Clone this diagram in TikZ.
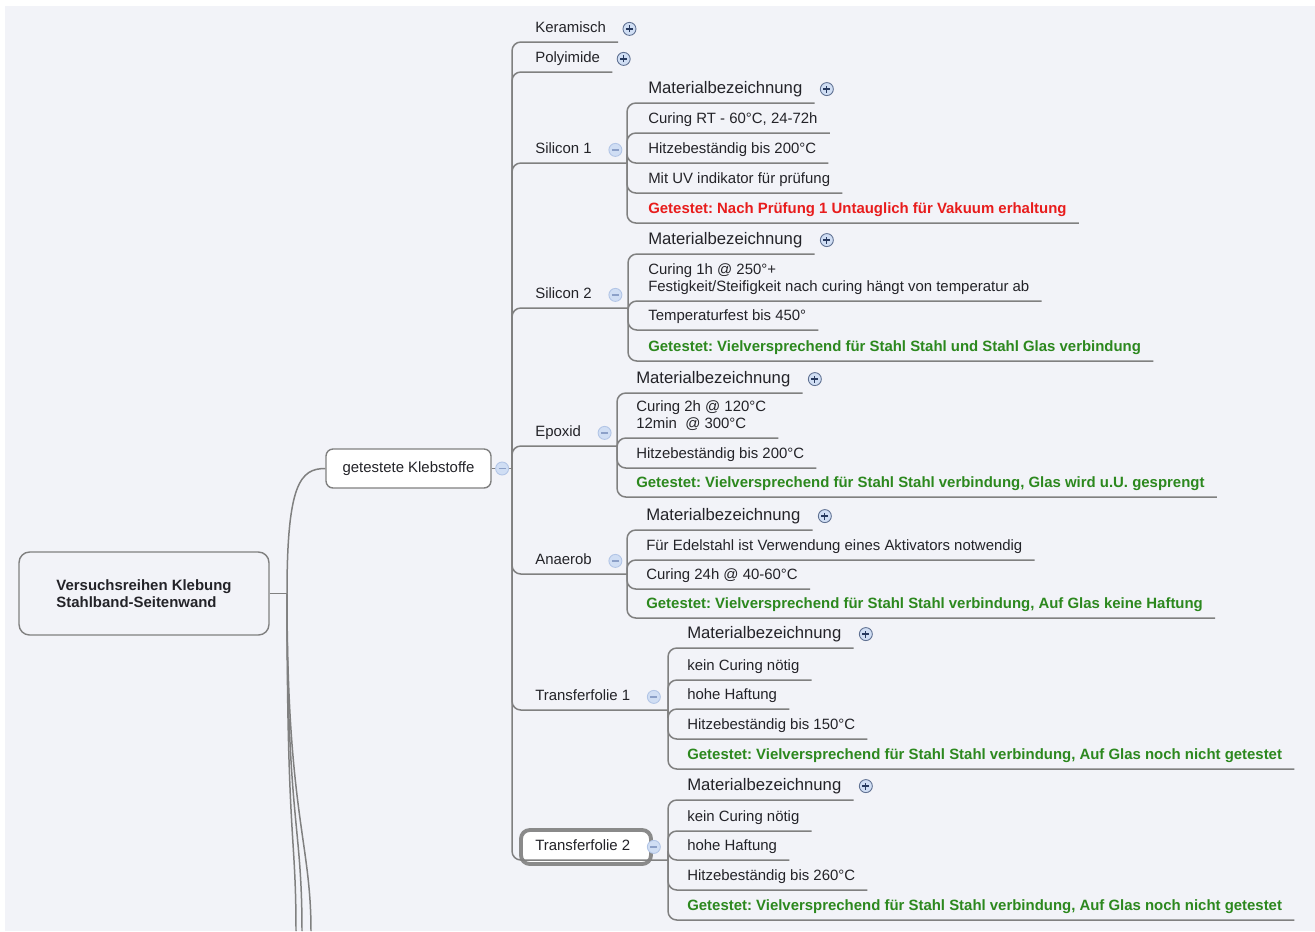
\documentclass[tikz,border=0pt]{standalone}
\usepackage{fontspec}
\setmainfont{Liberation Sans}
\frenchspacing
\usetikzlibrary{positioning,calc}
\definecolor{PageBg}{RGB}{242,243,248}
\definecolor{LineGray}{RGB}{128,128,128}
\definecolor{FrameGray}{RGB}{138,138,138}
\definecolor{InkDark}{RGB}{35,35,40}
\definecolor{ResRed}{RGB}{232,28,28}
\definecolor{ResGreen}{RGB}{44,136,30}
\definecolor{BtnFill}{RGB}{208,222,244}
\definecolor{PlusRing}{RGB}{95,112,145}
\definecolor{PlusMark}{RGB}{40,58,95}
\definecolor{MinusRing}{RGB}{178,197,230}
\definecolor{MinusMark}{RGB}{140,160,200}
\tikzset{
  link/.style={draw=LineGray,line width=0.85pt,rounded corners=5pt},
  topic/.style={anchor=south west,inner xsep=6.8pt,inner ysep=3.3pt,align=left,
    text=InkDark,font=\fontsize{8.5}{9.7}\selectfont,execute at end node={\vphantom{g}}},
  matbez/.style={topic,font=\fontsize{9.5}{11}\selectfont},
  good/.style={topic,text=ResGreen,font=\fontsize{8.5}{9.7}\selectfont\bfseries},
  bad/.style={topic,text=ResRed,font=\fontsize{8.5}{9.7}\selectfont\bfseries},
  rootbox/.style={draw=LineGray,line width=0.8pt,rounded corners=6pt,fill=PageBg,
    minimum width=5cm,minimum height=1.66cm,align=left,text=InkDark,
    font=\fontsize{8.5}{9.7}\selectfont\bfseries},
  mainbox/.style={draw=LineGray,line width=0.8pt,rounded corners=4pt,fill=white,
    minimum width=3.3cm,minimum height=0.78cm,text=InkDark,
    font=\fontsize{8.5}{9.7}\selectfont},
  selframe/.style={draw=FrameGray,line width=2.2pt,rounded corners=5pt,fill=white},
  plusbtn/.style={circle,minimum size=7.4pt,inner sep=0pt,draw=PlusRing,fill=BtnFill,
    line width=0.5pt,
    path picture={\draw[PlusMark,line width=0.7pt]
      ([xshift=-2pt]path picture bounding box.center) -- ([xshift=2pt]path picture bounding box.center)
      ([yshift=-2pt]path picture bounding box.center) -- ([yshift=2pt]path picture bounding box.center);}},
  minusbtn/.style={circle,minimum size=7.4pt,inner sep=0pt,draw=MinusRing,fill=BtnFill,
    line width=0.5pt,
    path picture={\draw[MinusMark,line width=0.7pt]
      ([xshift=-2pt]path picture bounding box.center) -- ([xshift=2pt]path picture bounding box.center);}}
}
\begin{document}
\begin{tikzpicture}[x=0.02cm,y=-0.02cm]
  \useasboundingbox (0,0) rectangle (1315,931);
  \fill[white] (0,0) rectangle (1315,931);
  \fill[PageBg] (5,6) rectangle (1315,931);
  % selected topic
  \draw[selframe] (521,830) rectangle (651,864);

  \node[rootbox] (root) at (144,593.5) {Versuchsreihen Klebung\\Stahlband-Seitenwand};
  \node[mainbox] (kleb) at (408.5,468.5) {getestete Klebstoffe};
  \coordinate (rj) at (287,593.5);
  \coordinate (kj) at (512,468.5);
  \coordinate (rd1) at (296,931);
  \coordinate (rd2) at (302,931);
  \coordinate (rd3) at (311,931);

  % adhesive groups
  \foreach \n/\y/\t in {ker/42/{Keramisch},pol/72/{Polyimide},si1/163/{Silicon 1},
      si2/308/{Silicon 2},epo/446/{Epoxid},ana/574/{Anaerob},
      tfa/710/{Transferfolie 1},tfb/860/{Transferfolie 2}}
    \node[topic] (\n) at (523,\y) {\t};
  \foreach \n/\x/\y in {si1/627/163,si2/628/308,epo/617/446,ana/627/574,tfa/668/710,tfb/668/860}
    \coordinate (j\n) at (\x,\y);

  % Silicon 1
  \foreach \i/\s/\y/\t in {1/matbez/103/{Materialbezeichnung},
      2/topic/133/{Curing RT - 60°C, 24-72h},3/topic/163/{Hitzebeständig bis 200°C},
      4/topic/193/{Mit UV indikator für prüfung},
      5/bad/223/{Getestet: Nach Prüfung 1 Untauglich für Vakuum erhaltung}}
    \node[\s] (si1c\i) at (636,\y) {\t};
  % Silicon 2
  \foreach \i/\s/\y/\t in {1/matbez/254/{Materialbezeichnung},
      2/topic/301/{Curing 1h @ 250°+\\Festigkeit/Steifigkeit nach curing hängt von temperatur ab},
      3/topic/330/{Temperaturfest bis 450°},
      4/good/361/{Getestet: Vielversprechend für Stahl Stahl und Stahl Glas verbindung}}
    \node[\s] (si2c\i) at (636,\y) {\t};
  % Epoxid
  \foreach \i/\s/\y/\t in {1/matbez/393/{Materialbezeichnung},
      2/topic/438/{Curing 2h @ 120°C\\12min~ @ 300°C},3/topic/468/{Hitzebeständig bis 200°C},
      4/good/497/{Getestet: Vielversprechend für Stahl Stahl verbindung, Glas wird u.U. gesprengt}}
    \node[\s] (epoc\i) at (624,\y) {\t};
  % Anaerob
  \foreach \i/\s/\y/\t in {1/matbez/530/{Materialbezeichnung},
      2/topic/560/{Für Edelstahl ist Verwendung eines Aktivators notwendig},
      3/topic/589/{Curing 24h @ 40-60°C},
      4/good/618/{Getestet: Vielversprechend für Stahl Stahl verbindung, Auf Glas keine Haftung}}
    \node[\s] (anac\i) at (634,\y) {\t};
  % Transferfolie 1
  \foreach \i/\s/\y/\t in {1/matbez/648/{Materialbezeichnung},2/topic/680/{kein Curing nötig},
      3/topic/709/{hohe Haftung},4/topic/739/{Hitzebeständig bis 150°C},
      5/good/769/{Getestet: Vielversprechend für Stahl Stahl verbindung, Auf Glas noch nicht getestet}}
    \node[\s] (tfac\i) at (675,\y) {\t};
  % Transferfolie 2
  \foreach \i/\s/\y/\t in {1/matbez/800/{Materialbezeichnung},2/topic/831/{kein Curing nötig},
      3/topic/860/{hohe Haftung},4/topic/890/{Hitzebeständig bis 260°C},
      5/good/920/{Getestet: Vielversprechend für Stahl Stahl verbindung, Auf Glas noch nicht getestet}}
    \node[\s] (tfbc\i) at (675,\y) {\t};

  % connectors
  \draw[link] (root.east) -- (rj);
  \draw[link] (rj) .. controls +(0,-110) and +(-25,0) .. (kleb.west);
  \draw[link] (rj) .. controls +(0,250) and +(0,-100) .. (rd1);
  \draw[link] (rj) .. controls +(0,230) and +(0,-110) .. (rd2);
  \draw[link] (rj) .. controls +(0,220) and +(0,-90) .. (rd3);
  \draw[link] (kleb.east) -- (kj);
  \draw[link] (kj) |- (ker.south east);
  \draw[link] (kj) |- (pol.south east);
  \foreach \n in {si1,si2,epo,ana,tfa,tfb}
    \draw[link] (kj) |- (j\n);
  \foreach \i in {1,...,5} {
    \draw[link] (jsi1) |- (si1c\i.south east);
    \draw[link] (jtfa) |- (tfac\i.south east);
    \draw[link] (jtfb) |- (tfbc\i.south east);
  }
  \foreach \i in {1,...,4} {
    \draw[link] (jsi2) |- (si2c\i.south east);
    \draw[link] (jepo) |- (epoc\i.south east);
    \draw[link] (jana) |- (anac\i.south east);
  }

  % fold buttons
  \node[minusbtn,right=2pt of kleb] (klebb) {};
  \node[plusbtn,right=2.5pt of ker] (kerb) {};
  \node[plusbtn,right=2.5pt of pol] (polb) {};
  \foreach \n in {si1,si2,epo,ana,tfa,tfb}
    \node[minusbtn,right=2.5pt of \n] (\n b) {};
  \foreach \n in {si1c1,si2c1,epoc1,anac1,tfac1,tfbc1}
    \node[plusbtn,right=3pt of \n] (\n b) {};
\end{tikzpicture}
\end{document}
